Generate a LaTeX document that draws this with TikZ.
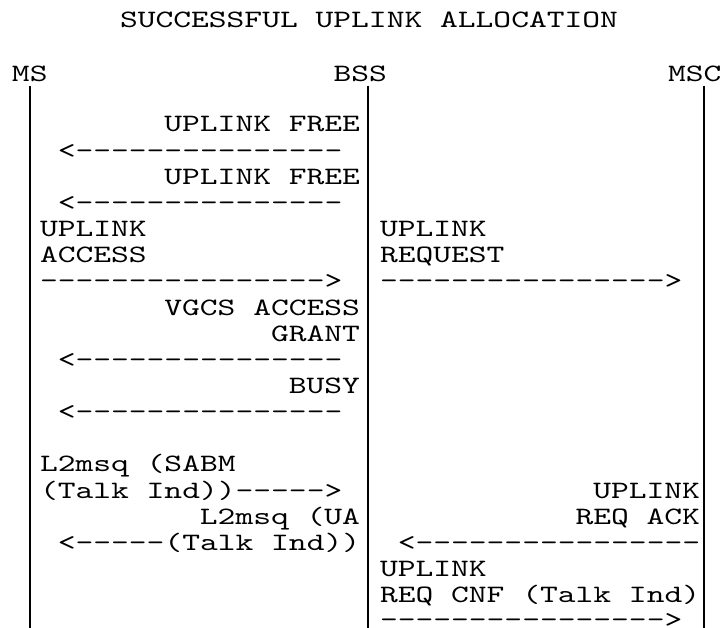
\documentclass[tikz,border=0pt]{standalone}
\usepackage{fontspec}
\setmonofont[FakeStretch=1.355]{lmmono10-regular.otf}
\begin{document}
\begin{tikzpicture}[x=1pt,y=-1pt,
  txt/.style={font=\ttfamily\fontsize{25pt}{26pt}\selectfont,inner sep=0pt,outer sep=0pt,text=black},
  lw/.style={txt,anchor=base west},
  le/.style={txt,anchor=base east},
  life/.style={line width=1.5pt,black}]
\useasboundingbox[fill=white] (0,0) rectangle (721,628);
% title and headers
\node[lw] (title) at (120,28) {SUCCESSFUL UPLINK ALLOCATION};
\node[lw] (ms)  at (12,82)    {MS};
\node[lw] (bss) at (333.5,82) {BSS};
\node[lw] (msc) at (668,82)   {MSC};
% lifelines
\coordinate (msTop)  at (30,86);  \coordinate (msEnd)  at (30,628);
\coordinate (bssTop) at (368,86); \coordinate (bssEnd) at (368,628);
\coordinate (mscTop) at (704,86); \coordinate (mscEnd) at (704,628);
\draw[life] (msTop) -- (msEnd);
\draw[life] (bssTop) -- (bssEnd);
\draw[life] (mscTop) -- (mscEnd);
% left column messages
\node[le] (f1)  at (360,132)    {UPLINK FREE};
\node[lw] (a1)  at (57.78,158.15) {<---------------};
\node[le] (f2)  at (360,184.3)  {UPLINK FREE};
\node[lw] (a2)  at (57.78,210.45) {<---------------};
\node[lw] (ua1) at (40,236.6)   {UPLINK};
\node[lw] (ua2) at (40,262.75)  {ACCESS};
\node[lw] (a3)  at (40,288.9)   {---------------->};
\node[le] (g1)  at (360,315.05) {VGCS ACCESS};
\node[le] (g2)  at (360,341.2)  {GRANT};
\node[lw] (a4)  at (57.78,367.35) {<---------------};
\node[le] (b1)  at (360,393.5)  {BUSY};
\node[lw] (a5)  at (57.78,419.65) {<---------------};
\node[lw] (s1)  at (40,471.95)  {L2msq (SABM};
\node[lw] (s2)  at (40,498.1)   {(Talk Ind))----->};
\node[le] (u1)  at (360,524.25) {L2msq (UA};
\node[lw] (u2)  at (57.78,550.4) {<-----(Talk Ind))};
% right column messages
\node[lw] (r1)  at (380,236.6)  {UPLINK};
\node[lw] (r2)  at (380,262.75) {REQUEST};
\node[lw] (r3)  at (380,288.9)  {---------------->};
\node[le] (k1)  at (700,498.1)  {UPLINK};
\node[le] (k2)  at (700,524.25) {REQ ACK};
\node[lw] (k3)  at (397.78,550.4) {<----------------};
\node[lw] (c1)  at (380,576.55) {UPLINK};
\node[lw] (c2)  at (380,602.7)  {REQ CNF (Talk Ind)};
\node[lw] (c3)  at (380,627)    {---------------->};
\end{tikzpicture}
\end{document}
